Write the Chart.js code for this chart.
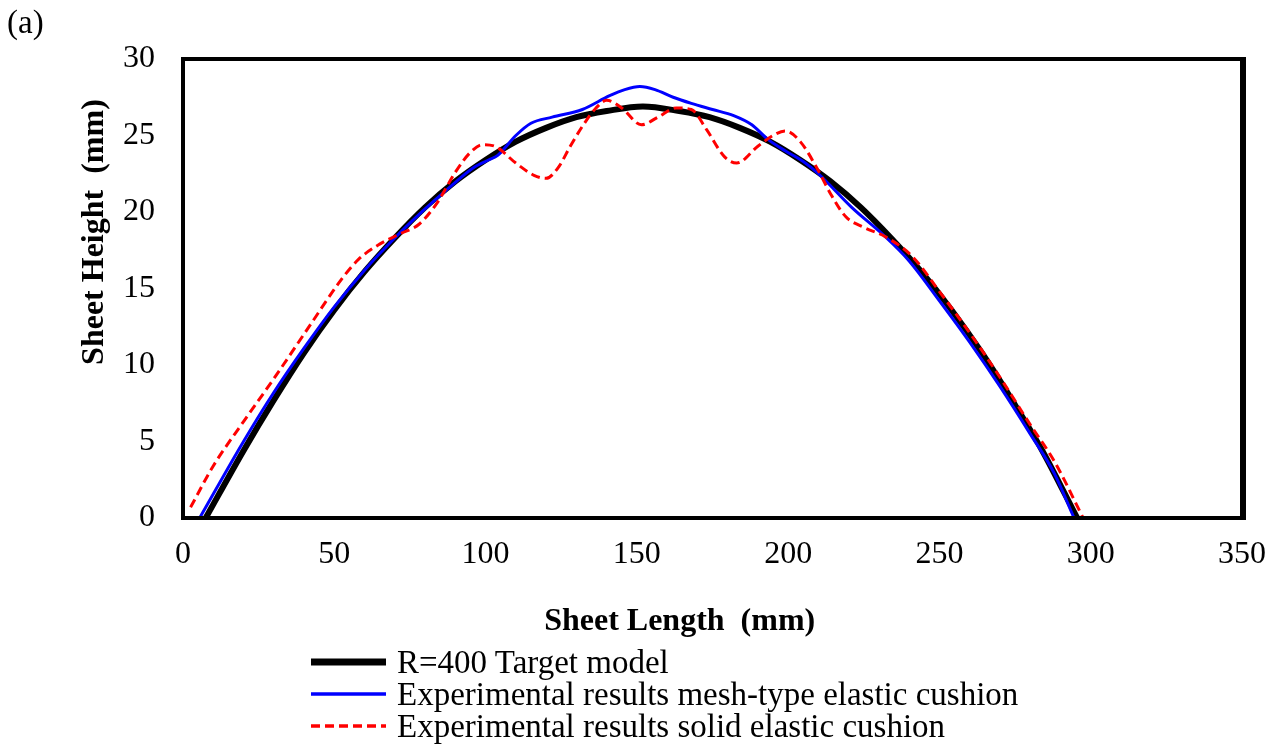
<!DOCTYPE html>
<html>
<head>
<meta charset="utf-8">
<script src="https://cdn.jsdelivr.net/npm/chart.js@4.4.1/dist/chart.umd.min.js"></script>
<style>
    body { margin: 0; background: #fff; }
    #wrap { position: relative; width: 1283px; height: 756px; }
    #chart { position: absolute; left: 0; top: 0; }
    #panel { position: absolute; left: 7px; top: 4px; font: 33px 'Liberation Serif', 'Times New Roman', serif; }
    #legend { position: absolute; left: 311px; top: 646px; font: 33px/32px 'Liberation Serif', 'Times New Roman', serif; color: #000; }
    #legend .row { display: flex; align-items: center; height: 32px; white-space: nowrap; }
    #legend svg { margin-right: 11px; }
</style>
</head>
<body>
<div id="wrap">
    <canvas id="chart" width="1283" height="756"></canvas>
    <div id="panel">(a)</div>
    <div id="legend"></div>
</div>
<script>
// R=400 target model
const targetX = [7.5, 20, 30, 40, 50, 60, 70, 80, 90, 100, 110, 120, 130, 140, 152, 164, 174, 184, 194, 204, 214, 224, 234, 244, 254, 264, 274, 284, 295.5];
const targetY = [0, 4.4, 7.7, 10.8, 13.6, 16.1, 18.3, 20.3, 22.0, 23.4, 24.6, 25.5, 26.2, 26.6, 26.9, 26.6, 26.2, 25.5, 24.6, 23.4, 22.0, 20.3, 18.3, 16.1, 13.6, 10.8, 7.7, 4.4, 0];

// mesh-type elastic cushion
const meshX = [5.5, 20, 30, 40, 50, 60, 70, 80, 88, 96, 101, 104, 110, 115, 122, 132, 141, 146, 151, 156, 162, 168, 175, 182, 188, 193, 199, 205, 210, 221, 232, 240, 250, 260, 270, 280, 288, 294.5];
const meshY = [0, 5.0, 8.2, 11.1, 13.8, 16.2, 18.3, 20.2, 21.6, 22.9, 23.4, 23.7, 25.0, 25.8, 26.2, 26.7, 27.6, 28.0, 28.2, 28.0, 27.5, 27.1, 26.7, 26.3, 25.7, 24.8, 24.0, 23.3, 22.5, 20.3, 18.4, 16.8, 14.2, 11.5, 8.6, 5.5, 2.9, 0];

// solid elastic cushion
const solidX = [2.5, 10, 20, 30, 43, 52, 58, 65, 72, 78, 84, 90, 95, 99, 103, 110, 116, 120, 124, 128, 132, 136.5, 140, 145, 151.5, 157, 163, 168, 173, 179, 183, 190, 195, 199, 204, 210, 214, 219, 225, 232, 241, 250, 260, 270, 280, 288, 297.5];
const solidY = [0.7, 3.4, 6.3, 9.1, 12.9, 15.5, 16.9, 17.9, 18.6, 19.2, 20.6, 22.6, 23.9, 24.4, 24.3, 23.2, 22.4, 22.2, 22.9, 24.3, 25.6, 26.8, 27.3, 26.8, 25.7, 26.2, 26.8, 26.7, 25.4, 23.6, 23.2, 24.3, 25.0, 25.3, 24.6, 22.7, 21.2, 19.7, 19.0, 18.4, 17.1, 14.8, 12.1, 9.2, 6.1, 3.7, 0];

const seriesNames = ['R=400 Target model', 'Experimental results mesh-type elastic cushion', 'Experimental results solid elastic cushion'];

const serif = "'Liberation Serif', 'Times New Roman', serif";

function toPoints(xs, ys) {
    return xs.map((x, i) => ({ x: x, y: ys[i] }));
}

// frame round the plot area and the two axis titles
const framePlugin = {
    id: 'frame',
    afterDraw(chart) {
        const ctx = chart.ctx;
        const a = chart.chartArea;
        ctx.save();
        ctx.strokeStyle = '#000';
        ctx.lineWidth = 4;
        ctx.strokeRect(a.left, a.top, a.right - a.left, a.bottom - a.top);
        ctx.lineWidth = 6;
        ctx.beginPath();
        ctx.moveTo(a.right + 1, a.top - 2);
        ctx.lineTo(a.right + 1, a.bottom + 2);
        ctx.stroke();

        ctx.fillStyle = '#000';
        ctx.font = 'bold 32px ' + serif;
        ctx.textAlign = 'center';
        ctx.textBaseline = 'middle';
        ctx.fillText('Sheet Length  (mm)', a.left + (a.right - a.left) * 0.469, 622);

        ctx.translate(95, a.top + (a.bottom - a.top) * 0.377);
        ctx.rotate(-Math.PI / 2);
        ctx.fillText('Sheet Height  (mm)', 0, 0);
        ctx.restore();
    }
};

function renderChart() {
    const ctx = document.getElementById('chart').getContext('2d');

    const chartData = {
        datasets: [
            {
                label: seriesNames[0],
                data: toPoints(targetX, targetY),
                borderColor: '#000000',
                borderWidth: 6,
                order: 3
            },
            {
                label: seriesNames[1],
                data: toPoints(meshX, meshY),
                borderColor: '#0000ff',
                borderWidth: 3,
                order: 2
            },
            {
                label: seriesNames[2],
                data: toPoints(solidX, solidY),
                borderColor: '#ff0000',
                borderWidth: 3,
                borderDash: [9, 5],
                order: 1
            }
        ]
    };

    const chartOptions = {
        responsive: false,
        animation: false,
        layout: { padding: { left: 0, top: 59, right: 38, bottom: 116 } },
        elements: {
            point: { radius: 0 },
            line: { tension: 0.4, cubicInterpolationMode: 'monotone', fill: false }
        },
        plugins: {
            legend: { display: false },
            tooltip: { enabled: false }
        },
        scales: {
            x: {
                type: 'linear',
                min: 0,
                max: 350,
                afterFit(scale) { scale.height = 122; },
                grid: { display: false, drawTicks: false },
                border: { display: false },
                ticks: { stepSize: 50, padding: 17, color: '#000', font: { family: serif, size: 32 } }
            },
            y: {
                min: 0,
                max: 30,
                afterFit(scale) { scale.width = 183; },
                grid: { display: false, drawTicks: false },
                border: { display: false },
                ticks: { stepSize: 5, padding: 28, color: '#000', font: { family: serif, size: 32 } }
            }
        }
    };

    const chart = new Chart(ctx, {
        type: 'line',
        data: chartData,
        options: chartOptions,
        plugins: [framePlugin]
    });

    // legend below the chart, one row per series
    const legend = document.getElementById('legend');
    chart.data.datasets.forEach(ds => {
        const row = document.createElement('div');
        row.className = 'row';
        const dash = ds.borderDash ? ds.borderDash.join(' ') : 'none';
        const w = ds.borderWidth === 6 ? 7 : 3.5;
        row.innerHTML = '<svg width="75" height="12"><line x1="0" y1="6" x2="75" y2="6" stroke="' + ds.borderColor +
            '" stroke-width="' + w + '" stroke-dasharray="' + dash + '"/></svg><span>' + ds.label + '</span>';
        legend.appendChild(row);
    });
}

renderChart();
</script>
</body>
</html>
